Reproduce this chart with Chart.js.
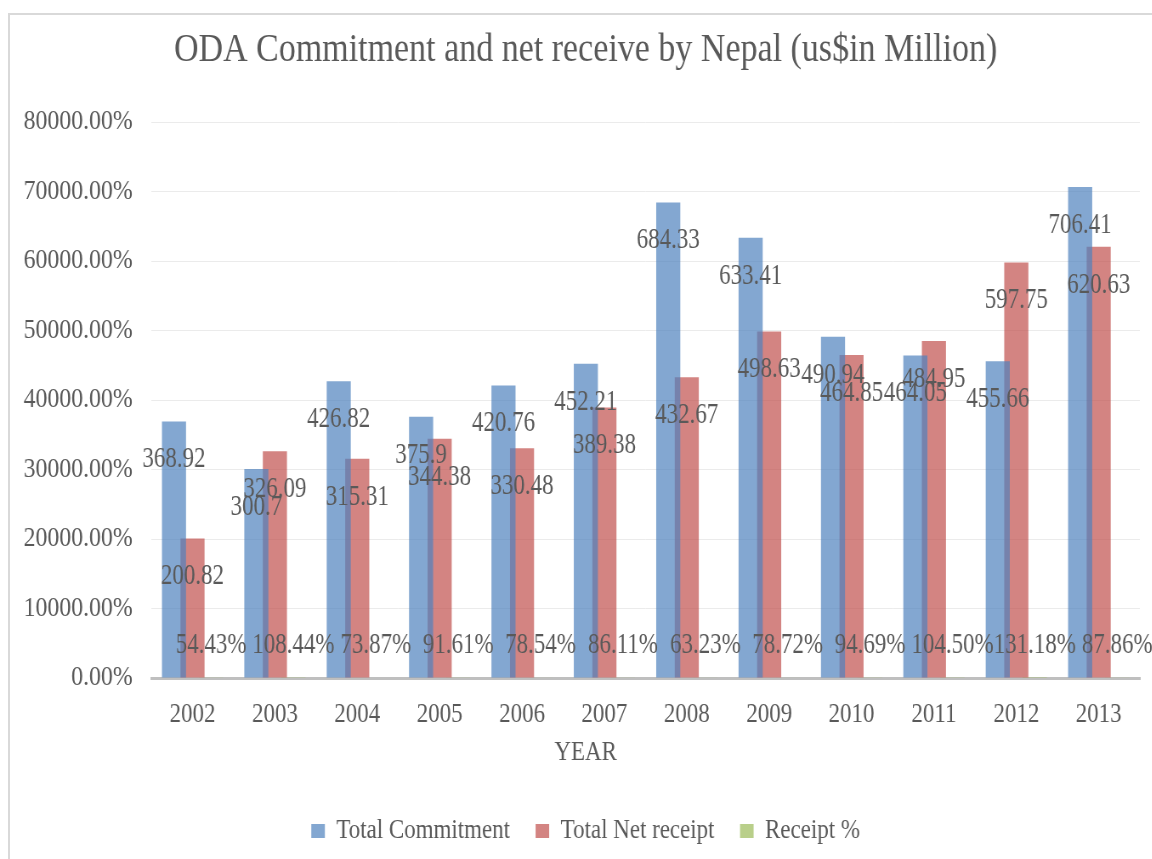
<!DOCTYPE html>
<html>
<head>
<meta charset="utf-8">
<script src="https://cdn.jsdelivr.net/npm/chart.js@4.4.1/dist/chart.umd.min.js"></script>
<style>
  html, body { margin: 0; padding: 0; overflow: hidden; background: #fff; }
  #frame {
    position: absolute; left: 8px; top: 13px; width: 1200px; height: 900px;
    border-top: 2px solid #d9d9d9; border-left: 2px solid #d9d9d9;
  }
  /* the chart is drawn wide and squeezed sideways, for the narrow lettering */
  #oda_chart {
    position: absolute; left: 0; top: 0;
    transform: scaleX(0.85); transform-origin: 0 0;
  }
</style>
</head>
<body>
<div id="frame"></div>
<canvas id="oda_chart" width="1370" height="859"></canvas>
<script>
var years = ['2002', '2003', '2004', '2005', '2006', '2007', '2008', '2009', '2010', '2011', '2012', '2013'];
var total_commitment = [368.92, 300.7, 426.82, 375.9, 420.76, 452.21, 684.33, 633.41, 490.94, 464.05, 455.66, 706.41];
var total_net_receipt = [200.82, 326.09, 315.31, 344.38, 330.48, 389.38, 432.67, 498.63, 464.85, 484.95, 597.75, 620.63];
var receipt_pct = [0.5443, 1.0844, 0.7387, 0.9161, 0.7854, 0.8611, 0.6323, 0.7872, 0.9469, 1.0450, 1.3118, 0.8786];

var text_color = '#595959';
var serif = "'Liberation Serif', 'Times New Roman', serif";

// number labels inside the bar tops, percent labels just above the axis
var value_labels = {
    id: 'value_labels',
    afterDatasetsDraw: function (chart) {
        var ctx = chart.ctx;
        var base = chart.scales.y.getPixelForValue(0);
        ctx.save();
        ctx.fillStyle = text_color;
        ctx.textAlign = 'center';
        ctx.textBaseline = 'middle';
        ctx.font = '30px ' + serif;
        chart.data.datasets.forEach(function (ds, i) {
            var pct = (i == 2);
            chart.getDatasetMeta(i).data.forEach(function (bar, j) {
                var txt = pct ? (ds.data[j] * 100).toFixed(2) + '%' : String(ds.data[j]);
                var y = pct ? base - 33 : bar.y + 38;
                ctx.save();
                ctx.translate(bar.x, y);
                ctx.scale(0.9, 1);
                ctx.fillText(txt, 0, 0);
                ctx.restore();
            });
        });
        ctx.restore();
    }
};

var oda_chart = new Chart(document.getElementById('oda_chart'), {
    type: 'bar',
    data: {
        labels: years,
        datasets: [{
            label: 'Total Commitment',
            data: total_commitment,
            backgroundColor: 'rgba(79, 129, 189, 0.7)',
            borderWidth: 0,
        },
        {
            label: 'Total Net receipt',
            data: total_net_receipt,
            backgroundColor: 'rgba(192, 80, 77, 0.7)',
            borderWidth: 0,
        },
        {
            label: 'Receipt %',
            data: receipt_pct,
            backgroundColor: 'rgba(155, 187, 89, 0.7)',
            borderWidth: 0,
        }]
    },
    options: {
        responsive: false,
        animation: false,
        devicePixelRatio: 1,
        datasets: {
            bar: {
                categoryPercentage: 0.675,
                barPercentage: 1.3,
            }
        },
        layout: {
            padding: { left: 8, right: 0, top: 0, bottom: 4.5 }
        },
        plugins: {
            tooltip: { enabled: false },
            title: {
                display: true,
                text: 'ODA Commitment and net receive by Nepal (us$in Million)',
                color: text_color,
                font: { family: serif, size: 40, weight: 'normal' },
                padding: { top: 26, bottom: 48 },
            },
            legend: {
                position: 'bottom',
                title: {
                    display: true,
                    text: 'YEAR',
                    color: text_color,
                    font: { family: serif, size: 27 },
                    padding: { top: 11.5, bottom: 15.6 },
                },
                labels: {
                    color: text_color,
                    font: { family: serif, size: 27 },
                    boxWidth: 16,
                    boxHeight: 14,
                    padding: 30,
                },
            },
        },
        scales: {
            x: {
                afterFit: function (scale) { scale.height = 50; },
                grid: { display: false, drawTicks: false },
                border: { display: true, color: '#bfbfbf', width: 3 },
                ticks: {
                    color: text_color,
                    font: { family: serif, size: 27 },
                    padding: 21,
                },
            },
            y: {
                min: 0,
                max: 800,
                afterFit: function (scale) { scale.width = 170; },
                grid: { color: '#ebebeb', lineWidth: 1, drawTicks: false },
                border: { display: false },
                ticks: {
                    stepSize: 100,
                    color: text_color,
                    font: { family: serif, size: 28 },
                    padding: 22,
                    callback: function (v) { return (v * 100).toFixed(2) + '%'; },
                },
            },
            // empty strip on the right so the title and legend sit a bit right of the plot centre
            right_gap: {
                type: 'linear',
                position: 'right',
                afterFit: function (scale) { scale.width = 29; },
                grid: { display: false },
                border: { display: false },
                ticks: { display: false },
            }
        }
    },
    plugins: [value_labels]
});
</script>
</body>
</html>
